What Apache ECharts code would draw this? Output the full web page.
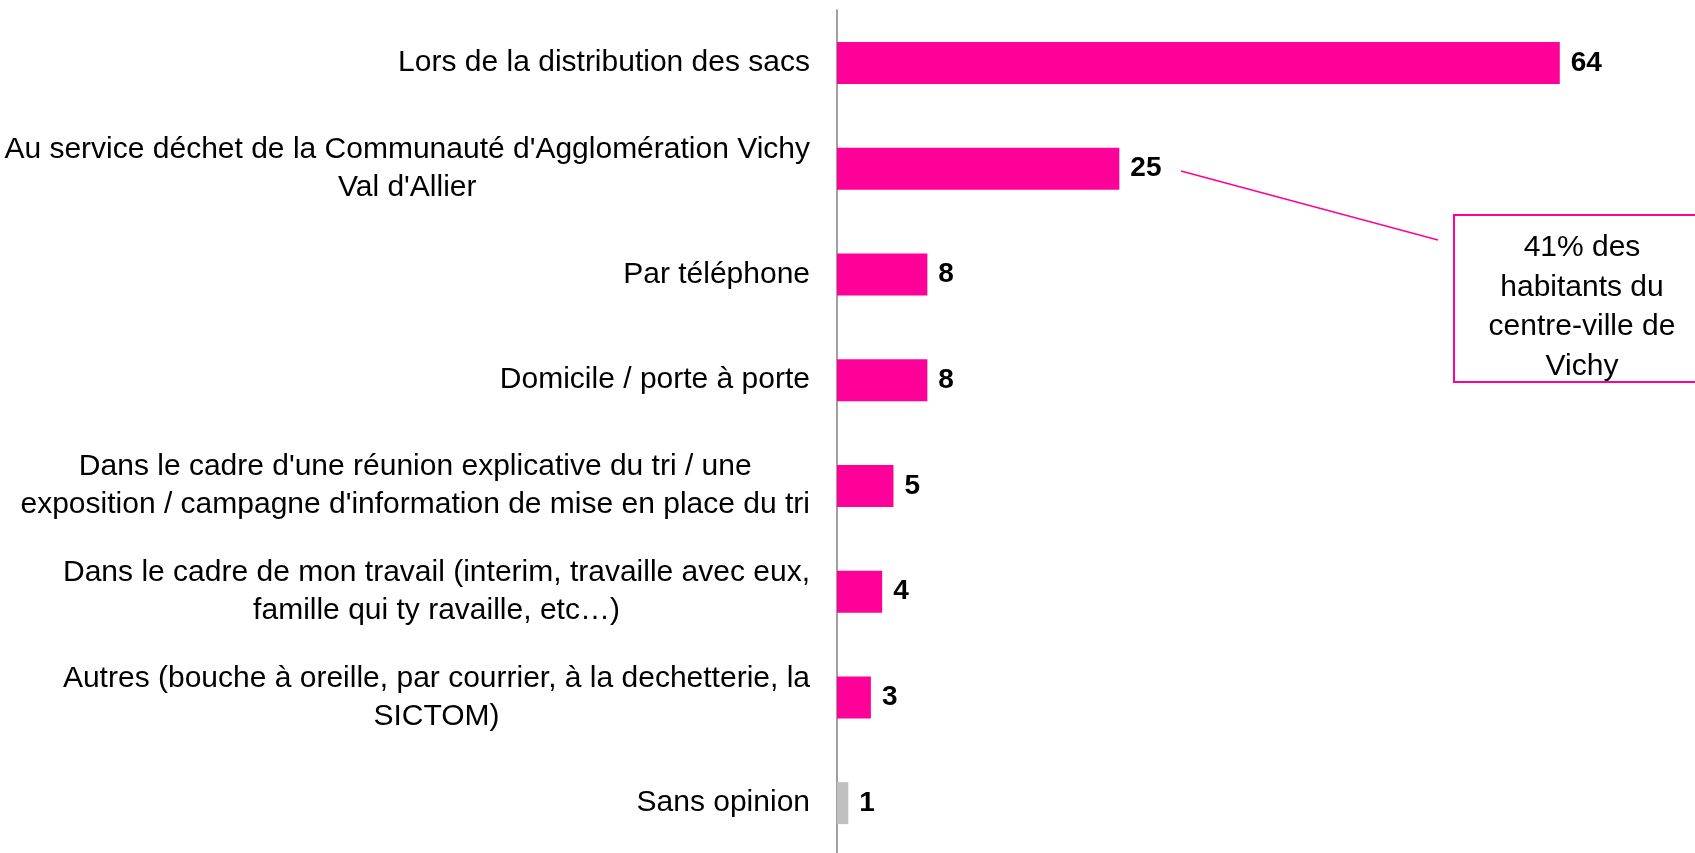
<!DOCTYPE html>
<html>
<head>
<meta charset="utf-8">
<script src="https://cdn.jsdelivr.net/npm/echarts@6/dist/echarts.min.js"></script>
<style>
	html, body { margin: 0; padding: 0; background: #fff; }
	#chart { width: 1695px; height: 853px; }
</style>
</head>
<body>
<div id="chart"></div>
<script>
// data (top to bottom)
var categories = [
	"Lors de la distribution des sacs",
	"Au service déchet de la Communauté d'Agglomération Vichy\nVal d'Allier",
	"Par téléphone",
	"Domicile / porte à porte",
	"Dans le cadre d'une réunion explicative du tri / une\nexposition / campagne d'information de mise en place du tri",
	"Dans le cadre de mon travail (interim, travaille avec eux,\nfamille qui ty ravaille, etc…)",
	"Autres (bouche à oreille, par courrier, à la dechetterie, la\nSICTOM)",
	"Sans opinion"
];
var values = [64, 25, 8, 8, 5, 4, 3, 1];
var calloutLines = ["41% des", "habitants du", "centre-ville de", "Vichy"];

var PINK = '#FF0099';
var GREY = '#C0C0C0';
var FONT = '"Liberation Sans", Arial, sans-serif';

var chart = echarts.init(document.getElementById('chart'));

var option = {
	animation: false,
	backgroundColor: '#fff',
	grid: { left: 837, right: 11, top: 10, bottom: -3, containLabel: false, outerBoundsMode: 'none' },
	xAxis: {
		type: 'value',
		min: 0,
		max: 75,
		show: false
	},
	yAxis: {
		type: 'category',
		data: categories,
		inverse: true,
		axisLine: { show: true, lineStyle: { color: '#808080', width: 1.5 } },
		axisTick: { show: false },
		splitLine: { show: false },
		axisLabel: {
			margin: 27,
			formatter: function (v) {
				return v.split('\n').map(function (l) { return '{c|' + l + '}'; }).join('\n');
			},
			rich: {
				c: { align: 'center', fontSize: 30, lineHeight: 38, color: '#000', fontFamily: FONT }
			}
		}
	},
	series: [{
		type: 'bar',
		data: values,
		barWidth: 42,
		itemStyle: {
			color: function (p) { return p.dataIndex === values.length - 1 ? GREY : PINK; }
		},
		label: {
			show: true,
			position: 'right',
			distance: 11,
			color: '#000',
			fontWeight: 'bold',
			fontSize: 28,
			fontFamily: FONT
		}
	}],
	graphic: [
		{
			type: 'line',
			shape: { x1: 1181, y1: 171, x2: 1438, y2: 240 },
			style: { stroke: PINK, lineWidth: 1.5 }
		},
		{
			type: 'rect',
			shape: { x: 1454, y: 215, width: 260, height: 167 },
			style: { fill: '#fff', stroke: PINK, lineWidth: 2 }
		},
		{
			type: 'text',
			x: 1582,
			y: 307,
			style: {
				text: calloutLines.join('\n'),
				align: 'center',
				verticalAlign: 'middle',
				fontSize: 30,
				lineHeight: 39.5,
				fill: '#000',
				fontFamily: FONT
			}
		}
	]
};

chart.setOption(option);
</script>
</body>
</html>
